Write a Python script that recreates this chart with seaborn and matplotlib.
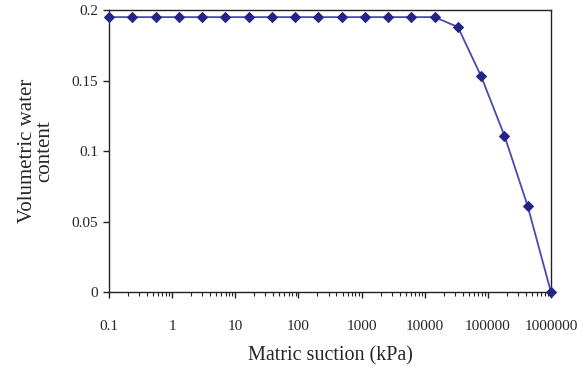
import matplotlib
matplotlib.use("Agg")
import matplotlib.pyplot as plt
import matplotlib.ticker as mticker
import seaborn as sns
import pandas as pd

# Data
suction_kpa = [0.1, 0.234, 0.546, 1.27, 2.98, 6.95, 16.2, 37.9, 88.6, 207,
               483, 1129, 2637, 6158, 14384, 33598, 78476, 183298, 428133, 1000000]
water_content = [0.195, 0.195, 0.195, 0.195, 0.195, 0.195, 0.195, 0.195, 0.195, 0.195,
                 0.195, 0.195, 0.195, 0.195, 0.195, 0.188, 0.153, 0.111, 0.061, 0.0]
x_ticks = [0.1, 1, 10, 100, 1000, 10000, 100000, 1000000]
x_tick_labels = ["0.1", "1", "10", "100", "1000", "10000", "100000", "1000000"]
y_ticks = [0, 0.05, 0.1, 0.15, 0.2]
y_tick_labels = ["0", "0.05", "0.1", "0.15", "0.2"]

df = pd.DataFrame({"suction": suction_kpa, "theta": water_content})

sns.set_style("white")
plt.rcParams["font.family"] = ["Liberation Serif", "DejaVu Serif"]

fig = plt.figure(figsize=(5.83, 3.73), dpi=100)
ax = fig.add_axes([0.187, 0.217, 0.758, 0.756])

line_color = "#4a4aac"
marker_color = "#242488"
sns.lineplot(data=df, x="suction", y="theta", ax=ax, color=line_color, linewidth=1.3,
             marker="D", markersize=5.5, markerfacecolor=marker_color,
             markeredgecolor=marker_color, clip_on=False, zorder=5)

ax.set_xscale("log")
ax.set_xlim(0.1, 1000000)
ax.set_ylim(0, 0.2)

ax.xaxis.set_major_locator(mticker.FixedLocator(x_ticks))
ax.xaxis.set_major_formatter(mticker.FixedFormatter(x_tick_labels))
ax.xaxis.set_minor_locator(mticker.LogLocator(base=10, subs=[2, 3, 4, 5, 6, 7, 8, 9], numticks=20))
ax.xaxis.set_minor_formatter(mticker.NullFormatter())
ax.yaxis.set_major_locator(mticker.FixedLocator(y_ticks))
ax.yaxis.set_major_formatter(mticker.FixedFormatter(y_tick_labels))

for s in ax.spines.values():
    s.set_visible(True)
    s.set_color("#222222")
    s.set_linewidth(1.0)

ax.tick_params(axis="x", which="major", direction="out", length=4, width=1, pad=16,
               labelsize=11, bottom=True, color="#222222")
ax.tick_params(axis="x", which="minor", direction="out", length=3, width=0.8,
               bottom=True, color="#222222")
ax.tick_params(axis="y", which="major", direction="out", length=4, width=1, pad=4,
               labelsize=11, left=True, color="#222222")

ax.set_xlabel("Matric suction (kPa)", fontsize=14.5, labelpad=10)
ax.set_ylabel("Volumetric water\ncontent", fontsize=15, labelpad=12, linespacing=0.9)

ax.grid(False)
fig.savefig("out.png", dpi=100)
